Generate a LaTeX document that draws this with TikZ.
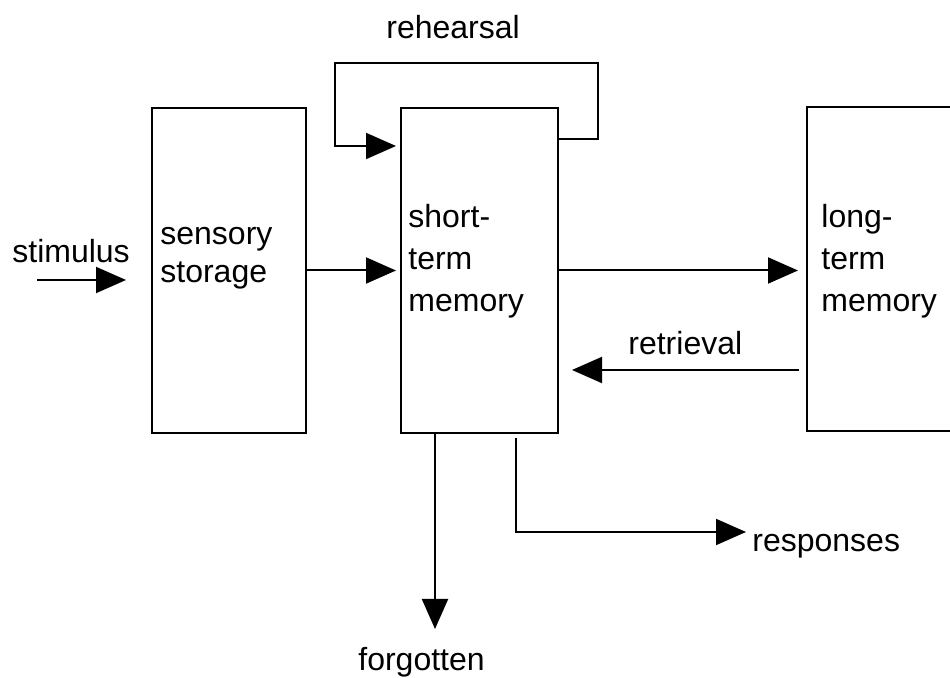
\documentclass[tikz,border=0pt]{standalone}
\usepackage{fontspec}
\setmainfont{Liberation Sans}
\usetikzlibrary{arrows.meta,positioning}
\definecolor{Ink}{HTML}{000000}

\begin{document}
\begin{tikzpicture}[x=0.5pt,y=-0.5pt,
    block/.style={draw=Ink,line width=1pt,inner sep=0pt},
    arr/.style={draw=Ink,line width=1pt,-{Triangle[length=15pt,width=13pt]}},
    lbl/.style={anchor=base west,inner sep=0pt,text=Ink,align=left,
      font=\fontsize{16}{21}\selectfont}]
    \useasboundingbox (0,0) rectangle (950,678);
    % the three stores
    \node[block,minimum width=77pt,minimum height=162.5pt] (sens) at (229,270.5) {};
    \node[block,minimum width=78.5pt,minimum height=162.5pt] (stm) at (479.5,270.5) {};
    \node[block,minimum width=75pt,minimum height=162pt] (ltm) at (882,269) {};
    % multi-line texts sit on the baseline of their last line
    \node[lbl,font=\fontsize{16}{19}\selectfont] (sensTxt) at (160,283) {sensory\\storage};
    \node[lbl] (stmTxt) at (408,312) {short-\\term\\memory};
    \node[lbl] (ltmTxt) at (821,312) {long-\\term\\memory};
    % free ends of the connectors
    \coordinate (stimA) at (37,280);
    \coordinate (stimB) at (126,280);
    \coordinate (retA) at (799,370);
    \coordinate (retB) at (572,370);
    \coordinate (forgEnd) at (435,629);
    \coordinate (respA) at (516,438);
    \coordinate (respB) at (746,532);
    % connectors
    \draw[arr] (stimA) -- (stimB);
    \draw[arr,shorten >=2pt] (sens.east) -- (stm.west);
    \draw[arr,shorten >=4pt] (stm.east) -- (stm.east -| ltm.west);
    \draw[arr] (retA) -- (retB);
    \draw[arr,shorten >=2pt] (stm.east |- 0,139) -| (598,63) -| (335,146)
      -- (stm.west |- 0,146);
    \draw[arr] (stm.south -| forgEnd) -- (forgEnd);
    \draw[arr] (respA) |- (respB);
    % labels
    \node[lbl] (stimTxt) at (12,263) {stimulus};
    \node[lbl] (rehTxt) at (386,39) {rehearsal};
    \node[lbl] (retTxt) at (628,355) {retrieval};
    \node[lbl] (respTxt) at (752,552) {responses};
    \node[lbl] (forgTxt) at (358,671) {forgotten};
\end{tikzpicture}
\end{document}
